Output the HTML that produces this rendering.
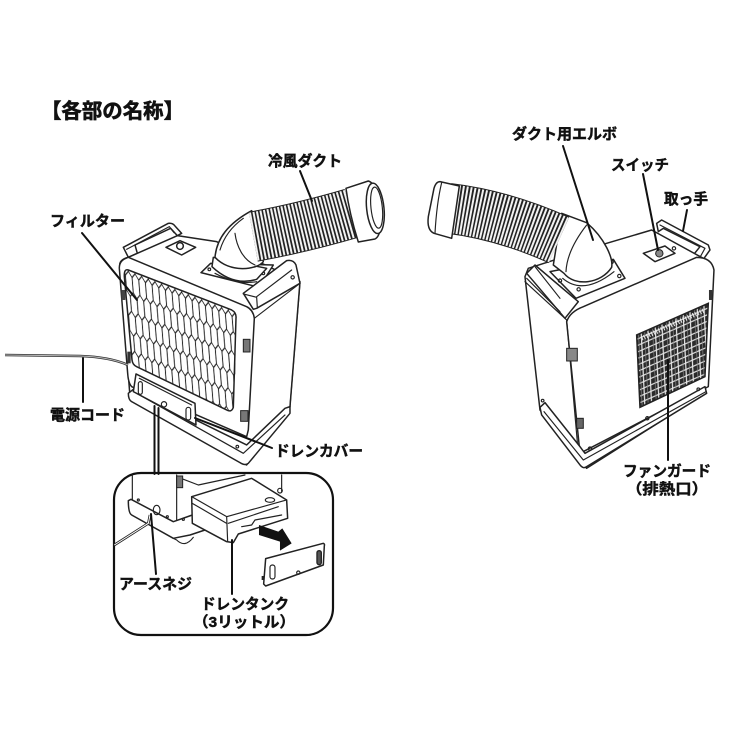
<!DOCTYPE html>
<html><head><meta charset="utf-8">
<style>
html,body{margin:0;padding:0;background:#fff;width:750px;height:750px;overflow:hidden}
svg{display:block}
text{font-family:"Liberation Sans","Noto Sans CJK JP",sans-serif;font-weight:700;fill:#111;stroke:#111;stroke-width:.45}
.u{fill:#fff;stroke:#222;stroke-width:4.5;stroke-linejoin:round;stroke-linecap:round}
.n{fill:none;stroke:#222;stroke-width:3.5;stroke-linejoin:round;stroke-linecap:round}
.l{fill:none;stroke:#111;stroke-width:2;stroke-linecap:round}
</style></head><body>
<svg width="750" height="750" viewBox="0 0 750 750" xmlns="http://www.w3.org/2000/svg">
<defs>
<pattern id="hex" patternUnits="userSpaceOnUse" width="20" height="120" patternTransform="matrix(1,0.39,0.08,1,75,300)">
<path d="M0,15L10,0L20,15M0,15V60M20,15V60M0,60L10,75L20,60M10,75V120" fill="none" stroke="#222" stroke-width="3"/>
</pattern>
<pattern id="grill" patternUnits="userSpaceOnUse" width="42" height="38" patternTransform="matrix(1,-0.44,0.05,1,680,500)">
<rect width="42" height="38" fill="#2a2a2a"/>
<path d="M0,8H42M0,27H42M14,0V38M34,0V38" stroke="#e8e8e8" stroke-width="3.5" fill="none"/>
<path d="M6,0V38M24,0V38" stroke="#888" stroke-width="2" fill="none"/>
</pattern>
<clipPath id="fc"><path d="M85,300L395,420Q410,428 408,445L400,712Q395,728 380,720L110,590Q98,585 96,570L73,320Q72,295 85,300Z"/></clipPath>
</defs>

<!-- LEFT UNIT -->
<g transform="translate(100,170) scale(.3333)">
 <path class="u" d="M70,232L205,160Q218,158 225,168L245,190L232,197L212,175L105,225L112,250L85,262Z"/>
 <path class="n" d="M80,238L208,170L222,188"/>
 <path class="u" d="M85,262L112,250L232,197L350,215L600,335L570,710L440,885L90,680L60,290Q55,270 85,262Z"/>
 <path class="u" d="M198,232L240,212L287,232L245,255Z"/>
 <circle class="u" cx="240" cy="228" r="10"/>
 <path class="u" d="M85,262L440,410Q460,420 463,445L445,780L440,800L95,650Q85,640 83,610L58,295Q57,270 85,262Z"/>
 <path class="n" d="M463,445L600,340L570,710L445,830"/>
 <path class="u" d="M85,670L100,658L440,825L555,715L570,710L570,730L445,880Q435,888 420,878L95,695Q85,690 85,670Z"/>
 <path class="n" d="M110,670L430,850L555,735"/>
 <path class="u" d="M108,612L285,700L288,765L100,665Z"/>
 <path class="n" d="M118,625L275,705"/>
 <rect class="n" x="115" y="635" width="12" height="38" rx="6"/>
 <rect class="n" x="258" y="712" width="14" height="38" rx="7"/>
 <circle class="n" cx="192" cy="703" r="8"/>
 <circle class="n" cx="412" cy="830" r="4"/>
 <rect x="430" y="508" width="20" height="38" fill="#777" stroke="#222" stroke-width="3"/>
 <rect x="422" y="722" width="22" height="32" fill="#777" stroke="#222" stroke-width="3"/>
 <rect x="396" y="578" width="10" height="35" fill="#555"/>
 <rect x="64" y="360" width="12" height="30" fill="#444"/>
 <rect x="82" y="545" width="10" height="35" fill="#333"/>
 <path d="M85,300L395,420Q410,428 408,445L400,712Q395,728 380,720L110,590Q98,585 96,570L73,320Q72,295 85,300Z" fill="#fff" stroke="#222" stroke-width="4.5"/>
 <path d="M85,300L395,420Q410,428 408,445L400,712Q395,728 380,720L110,590Q98,585 96,570L73,320Q72,295 85,300Z" fill="url(#hex)" clip-path="url(#fc)"/>
 <path class="u" d="M303,308L332,280L520,285L478,352Z"/>
 <circle class="n" cx="328" cy="298" r="4"/><circle class="n" cx="430" cy="335" r="4"/><circle class="n" cx="490" cy="310" r="4"/>
 <path class="u" d="M336,290Q400,350 470,328L500,295L340,262Z"/>
 <path class="n" d="M345,310Q410,345 470,335"/>
 <path class="u" d="M345,262C350,205 385,160 455,122L490,275C470,300 390,310 345,262Z"/>
 <path class="n" d="M360,240C372,200 395,170 430,145M405,190C410,230 430,270 465,285"/>
 <path d="M460,200Q600,175 755,130" fill="none" stroke="#222" stroke-width="152"/>
 <path d="M460,200Q600,175 755,130" fill="none" stroke="#f2f2f2" stroke-width="146" stroke-dasharray="6 5"/>
 <path class="u" d="M430,370L560,272Q580,268 588,285L600,340L470,415L460,418Z"/>
 <path class="n" d="M470,380L575,300M430,372L470,382L472,412"/>
 <circle class="n" cx="578" cy="322" r="5"/>
 <path class="u" d="M738,55L805,33C840,40 860,190 825,207L775,216Q748,130 738,55Z"/>
 <ellipse class="u" cx="826" cy="115" rx="26" ry="76" transform="rotate(-6 826 115)"/>
 <ellipse class="n" cx="830" cy="113" rx="17" ry="62" transform="rotate(-6 830 113)"/>
</g>

<!-- RIGHT UNIT -->
<g transform="translate(410,170) scale(.3333)">
 <path class="u" d="M740,160L755,150L895,225L900,240L880,268L850,255L870,230L760,175L745,185Z"/>
 <path class="n" d="M750,165L885,235L870,262"/>
 <path class="u" d="M345,320L355,295L590,220L725,180L880,265Q915,280 910,310L885,670L530,895L390,720Z"/>
 <path class="u" d="M700,250L765,228L795,250L735,275Z"/>
 <circle cx="748" cy="250" r="11" fill="#888" stroke="#222" stroke-width="3"/>
 <circle class="n" cx="792" cy="235" r="5"/><circle class="n" cx="820" cy="320" r="5"/><circle class="n" cx="595" cy="415" r="5"/>
 <path class="u" d="M470,455Q480,425 520,410L860,262Q905,262 912,300L895,650L510,850Z"/>
 <path class="n" d="M345,335L470,450L505,850"/>
 <path class="u" d="M390,712L405,698L510,830L525,850L885,650L890,670L530,890Q520,898 510,885L395,735Z"/>
 <path class="n" d="M402,725L520,870L888,665"/>
 <rect x="470" y="535" width="32" height="38" fill="#888" stroke="#222" stroke-width="3"/>
 <rect x="500" y="745" width="20" height="30" fill="#666" stroke="#222" stroke-width="3"/>
 <rect x="897" y="360" width="10" height="30" fill="#333"/>
 <circle class="n" cx="540" cy="836" r="5"/><circle class="n" cx="712" cy="745" r="5"/><circle class="n" cx="865" cy="658" r="4"/><circle class="n" cx="398" cy="692" r="4"/>
 <path d="M680,495L895,400L885,620L690,712Z" fill="url(#grill)" stroke="#222" stroke-width="4.5"/>
 <path d="M695,505L885,420" fill="none" stroke="#eee" stroke-width="14" stroke-dasharray="3 5"/>
 <path class="u" d="M350,310L375,285L505,395L465,445Z"/>
 <path class="n" d="M350,325L450,425M375,290L450,385"/>
 <path class="u" d="M420,305L610,268L645,325L498,385Z"/>
 <circle class="n" cx="450" cy="332" r="5"/><circle class="n" cx="506" cy="358" r="5"/><circle class="n" cx="628" cy="318" r="5"/><circle class="n" cx="605" cy="276" r="5"/>
 <path class="n" d="M458,325Q520,378 612,305"/>
 <path class="u" d="M455,130L530,158C585,205 610,265 605,292C575,340 495,352 462,310L430,285Z"/>
 <path class="n" d="M530,165C495,210 470,260 468,305"/>
 <path d="M115,115Q280,135 447,210" fill="none" stroke="#222" stroke-width="152"/>
 <path d="M115,115Q280,135 447,210" fill="none" stroke="#f2f2f2" stroke-width="146" stroke-dasharray="6 5"/>
 <path class="u" d="M90,35L148,48L125,205L72,190Q50,180 55,140L72,55Q78,35 90,35Z"/>
 <path class="n" d="M95,38Q80,100 75,190"/>
</g>

<!-- INSET -->
<rect x="114" y="473" width="219" height="162" rx="27" fill="#fff" stroke="#111" stroke-width="2.2"/>
<g transform="translate(105,460) scale(.3333)">
 <path class="n" d="M82,45V120M215,45V180M530,45V95"/>
 <path class="n" d="M215,50L280,75L420,45"/>
 <rect x="215" y="48" width="18" height="35" fill="#777" stroke="#222" stroke-width="3"/>
 <path class="u" d="M70,122L78,118L205,185L262,165L300,210L255,225L205,235L80,165Q70,160 70,122Z"/>
 <path class="n" d="M215,240Q240,265 265,232M215,240L205,235"/>
 <ellipse class="n" cx="155" cy="150" rx="10" ry="14"/>
 <path d="M28,255L130,190L135,165" fill="none" stroke="#222" stroke-width="8"/>
 <path d="M28,255L130,190L135,165" fill="none" stroke="#fff" stroke-width="3"/>
 <circle class="n" cx="100" cy="120" r="3"/><circle class="n" cx="187" cy="170" r="3"/><circle class="n" cx="235" cy="178" r="3"/>
 <path class="u" d="M260,110L440,55L545,120L548,175L400,222L385,248L365,245L262,190Z"/>
 <path class="n" d="M260,110L365,170L545,120M365,170L368,245M262,130L365,190M370,190L520,140"/>
 <path class="n" d="M410,200L440,195L450,180L530,165"/>
 <ellipse class="n" cx="495" cy="120" rx="14" ry="7"/>
 <circle class="n" cx="525" cy="92" r="7"/>
 <path d="M462,195L520,215L532,205L560,250L525,272L525,245L462,225Z" fill="#111"/>
 <path class="u" d="M482,296L655,250Q660,252 658,258L655,315L482,378L476,372Z"/>
 <rect class="n" x="495" y="315" width="15" height="42" rx="7"/>
 <rect x="636" y="272" width="13" height="42" rx="6" fill="#555" stroke="#222" stroke-width="4"/>
 <circle class="n" cx="580" cy="338" r="5"/>
 <rect x="470" y="348" width="7" height="12" fill="#222"/>
</g>

<!-- Leaders -->
<path class="l" d="M300,171L312,201"/>
<path class="l" d="M82,233L137,300"/>
<path class="l" d="M83,358V402"/>
<path class="l" d="M195,418L272,448"/>
<path class="l" d="M154.5,406V474M158.5,408V474"/>
<path class="l" d="M151,514L156,574"/>
<path class="l" d="M232,540V594"/>
<path class="l" d="M563,146L593,240"/>
<path class="l" d="M643,174L658,250"/>
<path class="l" d="M687,210L683,231"/>
<path class="l" d="M668,360V460"/>
<path d="M5,355L80,356Q110,357 128,365" fill="none" stroke="#333" stroke-width="2.6"/>
<path d="M5,355L80,356Q110,357 128,365" fill="none" stroke="#bbb" stroke-width=".9"/>

<!-- Labels -->
<text x="41" y="118" font-size="20.5" textLength="143" lengthAdjust="spacingAndGlyphs" style="stroke-width:.6">【各部の名称】</text>
<text x="268" y="166" font-size="15" textLength="74" lengthAdjust="spacingAndGlyphs">冷風ダクト</text>
<text x="50" y="226" font-size="15" textLength="75" lengthAdjust="spacingAndGlyphs">フィルター</text>
<text x="50" y="420" font-size="15" textLength="75" lengthAdjust="spacingAndGlyphs">電源コード</text>
<text x="275" y="456" font-size="15" textLength="88" lengthAdjust="spacingAndGlyphs">ドレンカバー</text>
<text x="512" y="139" font-size="15" textLength="105" lengthAdjust="spacingAndGlyphs">ダクト用エルボ</text>
<text x="611" y="170" font-size="15" textLength="58" lengthAdjust="spacingAndGlyphs">スイッチ</text>
<text x="664" y="204" font-size="15" textLength="44" lengthAdjust="spacingAndGlyphs">取っ手</text>
<text x="623" y="476" font-size="15" textLength="88" lengthAdjust="spacingAndGlyphs">ファンガード</text>
<text x="626" y="494" font-size="15" textLength="82" lengthAdjust="spacingAndGlyphs">（排熱口）</text>
<text x="119" y="589" font-size="15" textLength="73" lengthAdjust="spacingAndGlyphs">アースネジ</text>
<text x="201" y="609" font-size="15" textLength="88" lengthAdjust="spacingAndGlyphs">ドレンタンク</text>
<text x="193" y="627" font-size="15" textLength="102" lengthAdjust="spacingAndGlyphs">（3リットル）</text>
</svg>
</body></html>
